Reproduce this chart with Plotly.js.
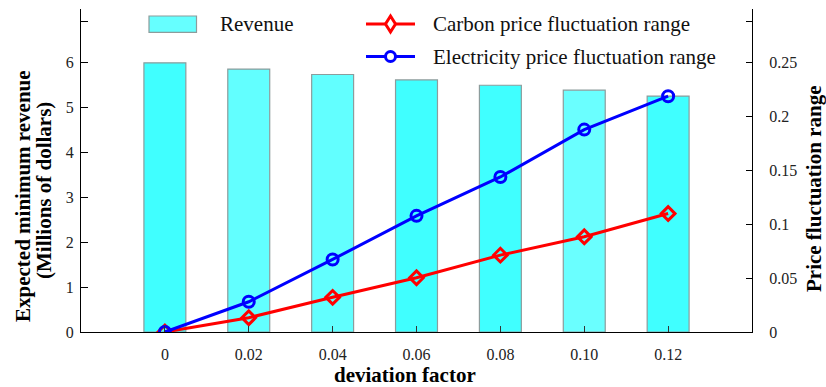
<!DOCTYPE html>
<html>
<head>
<meta charset="utf-8">
<script src="https://cdn.plot.ly/plotly-3.0.1.min.js"></script>
<style>html,body{margin:0;padding:0;background:#fff;}#chart{width:826px;height:387px;}</style>
</head>
<body>
<div id="chart"></div>
<script>
// ---- data ----
var categories = ['0', '0.02', '0.04', '0.06', '0.08', '0.10', '0.12'];
var revenue = [6.00, 5.86, 5.74, 5.62, 5.50, 5.39, 5.26];
var carbonRange = [0, 0.0133, 0.0322, 0.0504, 0.0714, 0.0884, 0.110];
var electricityRange = [0, 0.0281, 0.0674, 0.1079, 0.144, 0.188, 0.219];
var leftTicks = [0, 1, 2, 3, 4, 5, 6];
var rightTicks = [0, 0.05, 0.1, 0.15, 0.2, 0.25];
var rightTickText = ['0', '0.05', '0.1', '0.15', '0.2', '0.25'];

// ---- geometry helpers (plot area in pixels) ----
var L = 81, R = 752, T = 9, B = 332;
function px(x) { return (x - L) / (R - L); }
function py(y) { return (B - y) / (B - T); }

var serif = '"Liberation Serif", serif';
var barColors = ['#40ffff', '#62ffff', '#62ffff', '#40ffff', '#40ffff', '#6affff', '#40ffff'];

var traces = [
  {
    type: 'bar', x: categories, y: revenue, width: 0.5,
    marker: { color: barColors, line: { color: '#8c9c9c', width: 1.2 } },
    yaxis: 'y', showlegend: false, hoverinfo: 'x+y'
  },
  {
    type: 'scatter', mode: 'lines+markers', x: categories, y: carbonRange, yaxis: 'y2',
    line: { color: '#ff0000', width: 3 },
    marker: { symbol: 'diamond-open', size: 10.5, color: '#ff0000', line: { color: '#ff0000', width: 3 } },
    showlegend: false
  },
  {
    type: 'scatter', mode: 'lines+markers', x: categories, y: electricityRange, yaxis: 'y2',
    line: { color: '#0000ff', width: 3 },
    marker: { symbol: 'circle-open', size: 11, color: '#0000ff', line: { color: '#0000ff', width: 3 } },
    showlegend: false
  }
];

var tickFont = { family: serif, size: 16, color: '#222' };
var titleFont = { family: serif, size: 21, color: '#000' };
var legFont = { family: serif, size: 21, color: '#111' };

var layout = {
  width: 826, height: 387,
  margin: { l: L, r: 826 - R, t: T, b: 387 - B, pad: 0 },
  paper_bgcolor: '#fff', plot_bgcolor: 'rgba(0,0,0,0)',
  showlegend: false,
  font: { family: serif },
  xaxis: {
    type: 'category', categoryorder: 'array', categoryarray: categories,
    range: [-1, 7], showgrid: false, zeroline: false,
    showline: true, linecolor: '#000', linewidth: 1,
    ticks: 'inside', ticklen: 6, tickcolor: '#333', tickwidth: 1,
    tickfont: tickFont, ticklabelstandoff: 8
  },
  yaxis: {
    range: [0, 7.2], showgrid: false, zeroline: false,
    showline: true, linecolor: '#000', linewidth: 1,
    ticks: 'inside', ticklen: 7, tickcolor: '#000', tickwidth: 1,
    tickmode: 'array', tickvals: leftTicks.concat([6.93]), ticktext: leftTicks.map(String).concat(['']),
    tickfont: tickFont, ticklabelstandoff: 3
  },
  yaxis2: {
    overlaying: 'y', side: 'right', anchor: 'x',
    range: [0, 0.3], showgrid: false, zeroline: false,
    showline: true, linecolor: '#000', linewidth: 1,
    ticks: 'inside', ticklen: 6, tickcolor: '#000', tickwidth: 1,
    tickmode: 'array', tickvals: rightTicks.concat([0.2888]), ticktext: rightTickText.concat(['']),
    tickfont: tickFont, ticklabelstandoff: 13
  },
  shapes: [
    { type: 'rect', xref: 'paper', yref: 'paper', x0: px(149), x1: px(196.5), y0: py(32.3), y1: py(16),
      fillcolor: '#66ffff', line: { color: '#8c9c9c', width: 1.2 } },
    { type: 'line', xref: 'paper', yref: 'paper', x0: px(366), x1: px(415), y0: py(24), y1: py(24),
      line: { color: '#ff0000', width: 3 } },
    { type: 'path', xref: 'paper', yref: 'paper', xsizemode: 'pixel', ysizemode: 'pixel',
      xanchor: px(390.5), yanchor: py(24), path: 'M0,8L5,0L0,-8L-5,0Z',
      fillcolor: '#ffffff', line: { color: '#ff0000', width: 3 } },
    { type: 'line', xref: 'paper', yref: 'paper', x0: px(366), x1: px(415), y0: py(56.5), y1: py(56.5),
      line: { color: '#0000ff', width: 3 } },
    { type: 'circle', xref: 'paper', yref: 'paper', xsizemode: 'pixel', ysizemode: 'pixel',
      xanchor: px(390.5), yanchor: py(56.5), x0: -5, x1: 5, y0: -5, y1: 5,
      fillcolor: '#ffffff', line: { color: '#0000ff', width: 3 } }
  ],
  annotations: [
    { xref: 'paper', yref: 'paper', x: px(218), y: py(24), xanchor: 'left', yanchor: 'middle',
      text: 'Revenue', showarrow: false, font: legFont },
    { xref: 'paper', yref: 'paper', x: px(431), y: py(24), xanchor: 'left', yanchor: 'middle',
      text: 'Carbon price fluctuation range', showarrow: false, font: legFont },
    { xref: 'paper', yref: 'paper', x: px(431), y: py(56.5), xanchor: 'left', yanchor: 'middle',
      text: 'Electricity price fluctuation range', showarrow: false, font: legFont },
    { xref: 'paper', yref: 'paper', x: px(405), y: py(375), xanchor: 'center', yanchor: 'middle',
      text: '<b>deviation factor</b>', showarrow: false, font: titleFont },
    { xref: 'paper', yref: 'paper', x: px(23), y: py(196), xanchor: 'center', yanchor: 'middle',
      text: '<b>Expected minimum revenue</b>', textangle: -90, showarrow: false, font: titleFont },
    { xref: 'paper', yref: 'paper', x: px(44), y: py(191), xanchor: 'center', yanchor: 'middle',
      text: '<b>(Millions of dollars)</b>', textangle: -90, showarrow: false, font: titleFont },
    { xref: 'paper', yref: 'paper', x: px(814), y: py(189), xanchor: 'center', yanchor: 'middle',
      text: '<b>Price fluctuation range</b>', textangle: -90, showarrow: false, font: titleFont }
  ]
};

Plotly.newPlot('chart', traces, layout, { displayModeBar: false, staticPlot: true });
</script>
</body>
</html>
